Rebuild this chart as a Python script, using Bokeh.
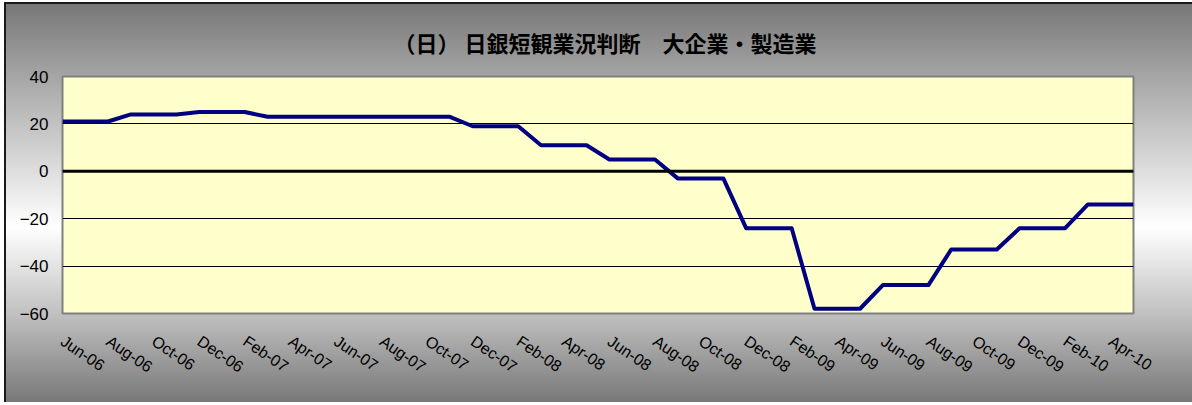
from bokeh.plotting import figure
from bokeh.models import FixedTicker, Span, Range1d
from bokeh.embed import file_html
from bokeh.resources import INLINE

# --- data -------------------------------------------------------------
months = [
    "Jun-06", "Jul-06", "Aug-06", "Sep-06", "Oct-06", "Nov-06", "Dec-06",
    "Jan-07", "Feb-07", "Mar-07", "Apr-07", "May-07", "Jun-07", "Jul-07",
    "Aug-07", "Sep-07", "Oct-07", "Nov-07", "Dec-07",
    "Jan-08", "Feb-08", "Mar-08", "Apr-08", "May-08", "Jun-08", "Jul-08",
    "Aug-08", "Sep-08", "Oct-08", "Nov-08", "Dec-08",
    "Jan-09", "Feb-09", "Mar-09", "Apr-09", "May-09", "Jun-09", "Jul-09",
    "Aug-09", "Sep-09", "Oct-09", "Nov-09", "Dec-09",
    "Jan-10", "Feb-10", "Mar-10", "Apr-10", "May-10",
]
di_values = [
    21, 21, 21, 24, 24, 24, 25,
    25, 25, 23, 23, 23, 23, 23,
    23, 23, 23, 23, 19,
    19, 19, 11, 11, 11, 5, 5,
    5, -3, -3, -3, -24,
    -24, -24, -58, -58, -58, -48, -48,
    -48, -33, -33, -33, -24,
    -24, -24, -14, -14, -14,
]
y_ticks = [-60, -40, -20, 0, 20, 40]
title_text = "（日） 日銀短観業況判断　大企業・製造業"

# --- figure -----------------------------------------------------------
xs = list(range(len(months)))
label_idx = xs[::2]

p = figure(
    width=1200, height=400,
    x_range=Range1d(0, len(months) - 1),
    y_range=Range1d(-60, 40),
    output_backend="svg", toolbar_location=None,
    min_border_left=56, min_border_right=73,
    min_border_top=71, min_border_bottom=91,
    title=title_text,
)
p.title.align = "left"
p.title.offset = 331
p.title.standoff = 38
p.title.text_font = "Noto Sans CJK JP"
p.title.text_font_style = "bold"
p.title.text_font_size = "22px"
p.title.text_color = "#000000"

p.margin = (2, -40, -30, 4)
p.styles = {
    "background": "linear-gradient(to bottom, #777777 0%, #a5a5a5 18%, #ffffff 56%, #c0c0c0 78%, #787878 100%)",
    "border-left": "2px solid #1a1a1a",
    "border-top": "2px solid #1a1a1a",
    "border-right": "0px none transparent",
    "border-bottom": "0px none transparent",
}
p.border_fill_color = None
p.background_fill_color = "#FFFFCC"
p.outline_line_color = "#808080"
p.outline_line_width = 2

# axes
p.xaxis.ticker = FixedTicker(ticks=label_idx)
p.xaxis.major_label_overrides = {i: months[i] for i in label_idx}
p.xaxis.major_label_orientation = -0.6
p.yaxis.ticker = FixedTicker(ticks=y_ticks)
for ax in (p.xaxis[0], p.yaxis[0]):
    ax.axis_line_color = None
    ax.major_tick_line_color = None
    ax.minor_tick_line_color = None
    ax.major_label_text_font = "Liberation Sans"
    ax.major_label_text_color = "#000000"
p.xaxis.major_label_text_font_size = "16px"
p.yaxis.major_label_text_font_size = "17px"
p.xaxis.major_label_standoff = 20
p.yaxis.major_label_standoff = 8

p.xgrid.grid_line_color = None
p.ygrid.ticker = FixedTicker(ticks=y_ticks)
p.ygrid.grid_line_color = "#000000"
p.ygrid.grid_line_width = 1

p.add_layout(Span(location=0, dimension="width", line_color="#000000", line_width=3))

p.line(xs, di_values, line_color="#000080", line_width=4, line_join="round")

open("out.html", "w").write(file_html(p, INLINE))
